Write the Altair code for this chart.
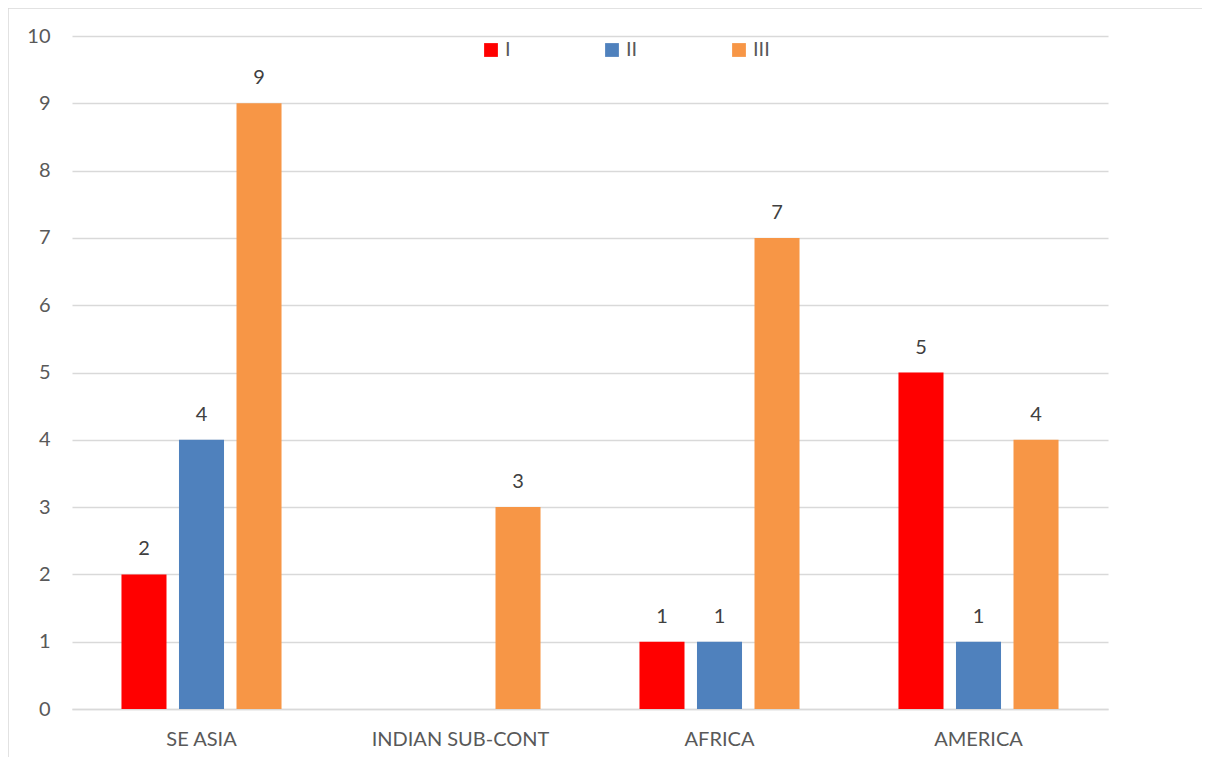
import altair as alt
import pandas as pd

categories = ["SE ASIA", "INDIAN SUB-CONT", "AFRICA", "AMERICA"]
series_names = ["I", "II", "III"]
values_I = [2, 0, 1, 5]
values_II = [4, 0, 1, 1]
values_III = [9, 3, 7, 4]
colors = ["#FF0000", "#4F81BD", "#F79646"]

rows = []
for s, vals in zip(series_names, [values_I, values_II, values_III]):
    for c, v in zip(categories, vals):
        rows.append({"region": c, "series": s, "value": v,
                     "label": str(v) if v > 0 else ""})
df = pd.DataFrame(rows)

W, H = 1036, 673
FONT = "Lato"
FS = 20
GREY = "#595959"

base = alt.Chart(df).encode(
    x=alt.X("region:N", sort=categories, title=None,
            scale=alt.Scale(paddingInner=0.382, paddingOuter=0.191),
            axis=alt.Axis(labelAngle=0, labelFontSize=FS, labelColor=GREY,
                          labelFont=FONT, labelPadding=20, ticks=False,
                          domainColor="#d9d9d9", domainWidth=1.5)),
    xOffset=alt.XOffset("series:N", sort=series_names,
                        scale=alt.Scale(paddingInner=0.217, paddingOuter=0)),
)

bars = base.mark_bar().encode(
    y=alt.Y("value:Q", title=None,
            scale=alt.Scale(domain=[0, 10], nice=False),
            axis=alt.Axis(values=list(range(0, 11)), format="d",
                          labelFontSize=FS,
                          labelColor=GREY, labelFont=FONT, labelPadding=22,
                          ticks=False, domain=False, gridColor="#d9d9d9",
                          gridWidth=1.5)),
    color=alt.Color("series:N", sort=series_names,
                    scale=alt.Scale(domain=series_names, range=colors),
                    legend=alt.Legend(title=None, orient="none",
                                      direction="horizontal",
                                      legendX=409, legendY=4,
                                      symbolType="square", symbolSize=190,
                                      symbolStrokeWidth=0,
                                      labelFontSize=FS, labelColor=GREY,
                                      labelFont=FONT, labelOffset=4,
                                      columnPadding=91, padding=0)),
)

labels = base.mark_text(baseline="alphabetic", dy=-19, fontSize=FS,
                        font=FONT, color="#404040").encode(
    y=alt.Y("value:Q"),
    text="label:N",
)

border = alt.Chart(pd.DataFrame({"b": [0]})).mark_rect(
    fill=None, stroke="#d9d9d9", strokeWidth=1.5, clip=False
).encode(
    x=alt.value(-64), x2=alt.value(W + 300),
    y=alt.value(-28), y2=alt.value(H + 300),
)

chart = alt.layer(border, bars, labels).properties(
    width=W, height=H,
    autosize=alt.AutoSizeParams(type="none"),
    padding={"left": 64, "top": 28, "right": 94, "bottom": 48},
).configure_view(stroke=None)

chart.save("out.html", embed_options={"renderer": "svg", "actions": False})
